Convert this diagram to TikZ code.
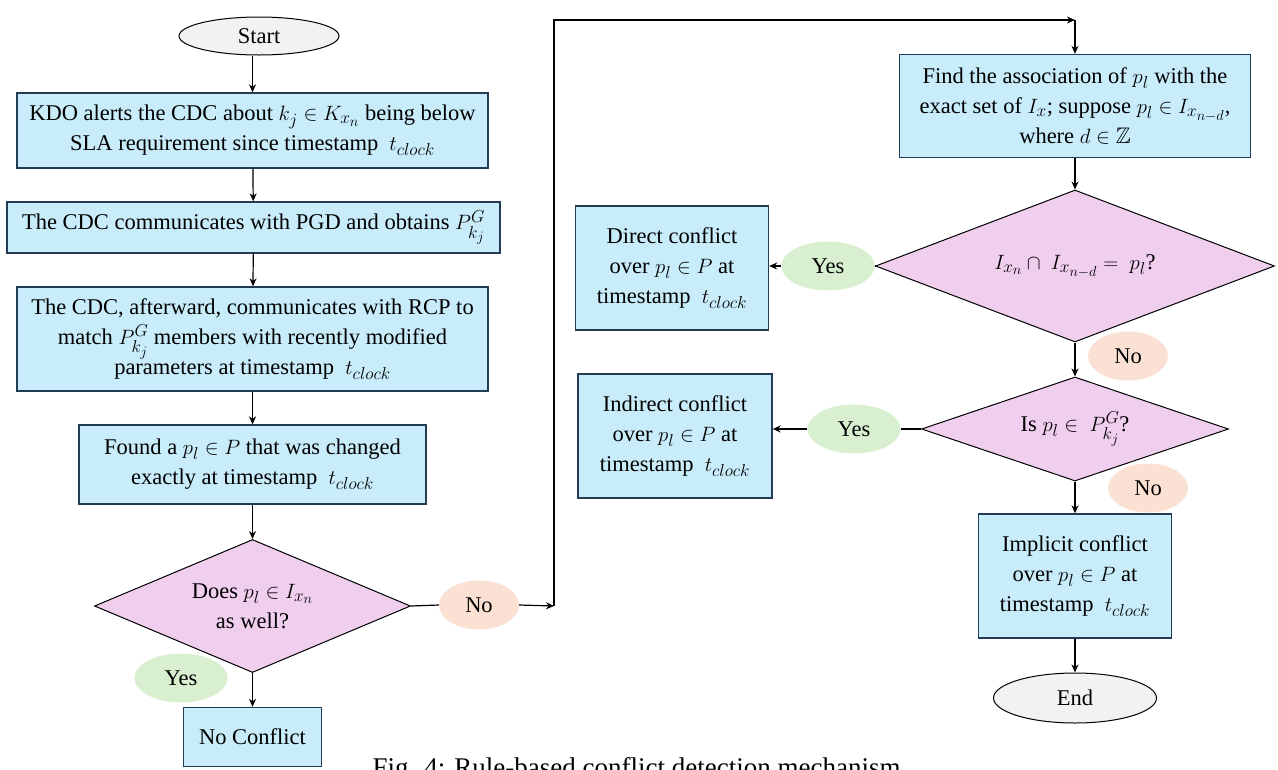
\documentclass[tikz,border=0pt]{standalone}
\usepackage{amssymb}
\usepackage{fontspec}
\setmainfont{Liberation Serif}
\DeclareMathSizes{22.5}{22.5}{17}{14}
\usetikzlibrary{shapes.geometric,arrows.meta}
\definecolor{boxfill}{RGB}{200,236,250}
\definecolor{boxline}{RGB}{35,60,85}
\definecolor{diafill}{RGB}{240,206,238}
\definecolor{yesfill}{RGB}{217,240,208}
\definecolor{nofill}{RGB}{251,225,212}
\definecolor{termfill}{RGB}{242,242,242}
\tikzset{
  every node/.style={font=\fontsize{22.5}{30}\selectfont},
  procbox/.style={draw=boxline, line width=1.4pt, fill=boxfill, align=center, inner sep=0pt},
  decide/.style={diamond, draw=black, line width=1pt, fill=diafill, align=center, inner sep=0pt},
  term/.style={ellipse, draw=black, line width=1pt, fill=termfill, inner sep=0pt},
  yeslab/.style={ellipse, fill=yesfill, inner sep=0pt, minimum width=93pt, minimum height=49pt},
  nolab/.style={ellipse, fill=nofill, inner sep=0pt, minimum width=80pt, minimum height=49pt},
  conn/.style={line width=1.2pt, -{Stealth[length=8pt,width=7pt]}},
  plain/.style={line width=1.2pt}
}
\begin{document}
\begin{tikzpicture}[x=1pt,y=-1pt]
\useasboundingbox (0,0) rectangle (1278,769);
% left column
\node[term, minimum width=160pt, minimum height=38pt] (start) at (259,36) {Start};
\node[procbox, minimum width=471pt, minimum height=75pt] (b1) at (252.5,130.5)
  {KDO alerts the CDC about $k_j \in K_{x_n}$ being below\\ SLA requirement since timestamp~~$t_{clock}$};
\node[procbox, minimum width=493pt, minimum height=51pt] (b2) at (253.5,227.5)
  {The CDC communicates with PGD and obtains $P^{G}_{k_j}$};
\node[procbox, minimum width=471pt, minimum height=104pt] (b3) at (252.5,339)
  {The CDC, afterward, communicates with RCP to\\ match $P^{G}_{k_j}$ members with recently modified\\ parameters at timestamp~~$t_{clock}$};
\node[procbox, minimum width=347pt, minimum height=79pt] (b4) at (252.5,464.5)
  {Found a $p_l \in P$ that was changed\\ exactly at timestamp~~$t_{clock}$};
\node[decide, shape aspect=2.38, minimum width=316pt, minimum height=133pt] (d1) at (252.5,606)
  {Does $p_l \in I_{x_n}$\\ as well?};
\node[procbox, minimum width=138pt, minimum height=59pt] (nc) at (252.5,737) {No Conflict};
\node[yeslab] (y1) at (181,678) {Yes};
\node[nolab] (n1) at (479,605) {No};
\coordinate (c1) at (554,606);
\coordinate (c2) at (554,20);
\coordinate (c3) at (1075,20);
% right column
\node[procbox, minimum width=351pt, minimum height=103pt] (find) at (1075,106)
  {Find the association of $p_l$ with the\\ exact set of $I_x$; suppose $p_l \in I_{x_{n-d}}$,\\ where $d \in \mathbb{Z}$};
\node[decide, shape aspect=2.63, minimum width=399pt, minimum height=152pt] (d2) at (1075,266)
  {$I_{x_n} \cap\ I_{x_{n-d}} =\ p_l$?};
\node[procbox, minimum width=193pt, minimum height=124pt] (direct) at (672,268)
  {Direct conflict\\ over $p_l \in P$ at\\ timestamp~~$t_{clock}$};
\node[yeslab] (y2) at (828,266) {Yes};
\node[nolab] (n2) at (1128,356) {No};
\node[decide, shape aspect=2.95, minimum width=307pt, minimum height=104pt] (d3) at (1075,429)
  {Is $p_l \in\ P^{G}_{k_j}$?};
\node[procbox, minimum width=194pt, minimum height=124pt] (indirect) at (675,436)
  {Indirect conflict\\ over $p_l \in P$ at\\ timestamp~~$t_{clock}$};
\node[yeslab] (y3) at (854,429) {Yes};
\node[nolab] (n3) at (1148,488) {No};
\node[procbox, minimum width=193pt, minimum height=124pt] (implicit) at (1075,576)
  {Implicit conflict\\ over $p_l \in P$ at\\ timestamp~~$t_{clock}$};
\node[term, minimum width=163pt, minimum height=50pt] (end) at (1075,698) {End};
% caption (cut by the page edge as in the reference)
\node[anchor=base, font=\fontsize{27}{30}\selectfont] (cap) at (640,776)
  {Fig. 4: Rule-based conflict detection mechanism.};
% connectors
\draw[conn] (start.south -| b1.north) -- (b1.north);
\draw[conn] (b1) -- (b2);
\draw[conn] (b2) -- (b3);
\draw[conn] (b3) -- (b4);
\draw[conn] (b4) -- (d1.north);
\draw[conn] (d1.south) -- (nc);
\draw[plain] (d1.east) -- (n1.west);
\draw[conn] (n1.east) -- (c1);
\draw[conn] (c1) -- (c2) -- (c3);
\draw[conn] (c3) -- (find.north);
\draw[conn] (find) -- (d2.north);
\draw[plain] (d2.west) -- (y2.east);
\draw[conn] (y2.west) -- (direct.east |- y2.west);
\draw[conn] (d2.south) -- (d3.north);
\draw[plain] (d3.west) -- (y3.east);
\draw[conn] (y3.west) -- (indirect.east |- y3.west);
\draw[conn] (d3.south) -- (implicit);
\draw[conn] (implicit) -- (end);
\end{tikzpicture}
\end{document}
